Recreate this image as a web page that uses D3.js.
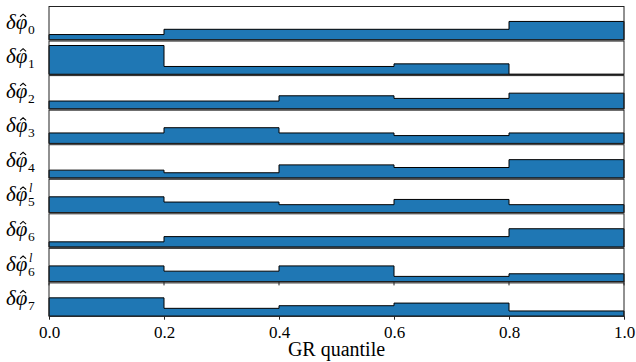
<!DOCTYPE html>
<html><head><meta charset="utf-8">
<script src="https://cdn.jsdelivr.net/npm/d3@7"></script>
<style>body{margin:0;background:#fff}svg{display:block}</style>
</head><body>
<svg id="c" width="636" height="362"></svg>
<script>
// bin edges (GR quantile)
const binEdges = [0, 0.2, 0.4, 0.6, 0.8, 1.0];
// panel labels: base subscript and optional superscript
const labelSubs = ["0", "1", "2", "3", "4", "5", "6", "6", "7"];
const labelSups = ["", "", "", "", "", "l", "", "l", ""];
// counts per quantile bin for each panel
const phi0  = [2, 4, 4, 4, 7];
const phi1  = [11, 3, 3, 4, 0];
const phi2  = [3, 3, 5, 4, 6];
const phi3  = [4, 6, 4, 3, 4];
const phi4  = [3, 2, 5, 4, 7];
const phi5l = [6, 4, 3, 5, 3];
const phi6  = [2, 4, 4, 4, 7];
const phi6l = [6, 4, 6, 2, 3];
const phi7  = [7, 3, 4, 5, 2];
const series = [phi0, phi1, phi2, phi3, phi4, phi5l, phi6, phi6l, phi7];
const xTicks = [0, 0.2, 0.4, 0.6, 0.8, 1.0];
const yMax = 12.7;

const svg = d3.select("#c");
const left = 49, right = 624;
const top0 = 6.5, step = 34.55, ph = 33.3;
const x = d3.scaleLinear().domain([0, 1]).range([left, right]);
const serif = "'Liberation Serif', 'Times New Roman', 'DejaVu Serif', 'Noto Serif', serif";

series.forEach((vals, i) => {
  const pt = top0 + i * step, pb = pt + ph;
  const y = d3.scaleLinear().domain([0, yMax]).range([pb, pt]);
  const pts = vals.map((v, j) => [binEdges[j], v]);
  pts.push([binEdges[binEdges.length - 1], vals[vals.length - 1]]);
  const area = d3.area().x(d => x(d[0])).y0(y(0)).y1(d => y(d[1])).curve(d3.curveStepAfter);
  svg.append("path").attr("d", area(pts) + "").attr("fill", "#1f77b4")
    .attr("stroke", "#000").attr("stroke-width", 1).attr("stroke-linejoin", "miter");
  svg.append("rect").attr("x", left).attr("y", pt).attr("width", right - left).attr("height", ph)
    .attr("fill", "none").attr("stroke", "#222").attr("stroke-width", 1);

  // label
  const cy = (pt + pb) / 2;
  const t = svg.append("text").attr("x", 6).attr("y", cy + 5.5)
    .style("font-family", serif).style("font-size", "21px").style("font-style", "italic").attr("fill", "#000")
    .text("δφ");
  const phiStart = t.node().getStartPositionOfChar(1).x;
  const phiEnd = t.node().getEndPositionOfChar(1).x;
  const xAfter = phiEnd + 0.5;
  if (labelSups[i]) {
    svg.append("text").attr("x", xAfter + 1).attr("y", cy - 3.5)
      .style("font-family", serif).style("font-style", "italic").style("font-size", "12px").text(labelSups[i]);
  }
  svg.append("text").attr("x", xAfter).attr("y", cy + 10.5)
    .style("font-family", serif).style("font-size", "13.5px").text(labelSubs[i]);
  // hat accent drawn as a path
  const hx = (phiStart + phiEnd) / 2 + 1.5, hy = cy - 9;
  svg.append("path").attr("d", `M${hx - 3},${hy + 2.6}L${hx},${hy}L${hx + 3},${hy + 2.6}`)
    .attr("fill", "none").attr("stroke", "#000").attr("stroke-width", 1.1);
});

// x axis at bottom of last panel
const lastBottom = top0 + 8 * step + ph;
const axis = d3.axisBottom(x).tickValues(xTicks).tickFormat(d3.format(".1f")).tickSize(3.5).tickSizeOuter(0);
const g = svg.append("g").attr("transform", `translate(0,${lastBottom})`).call(axis);
g.select(".domain").remove();
g.selectAll("text").style("font-family", serif).style("font-size", "17px").attr("fill", "#000").attr("dy", "0.9em");
g.selectAll("line").attr("stroke", "#222");
// small ticks at top of last panel
const lastTop = top0 + 8 * step;
svg.append("g").selectAll("line").data(xTicks).join("line")
  .attr("x1", d => x(d)).attr("x2", d => x(d)).attr("y1", lastTop - 1.5).attr("y2", lastTop + 2.5)
  .attr("stroke", "#222").attr("stroke-width", 1);

svg.append("text").attr("x", (left + right) / 2).attr("y", 356).attr("text-anchor", "middle")
  .style("font-family", serif).style("font-size", "20px").text("GR quantile");
</script>
</body></html>
